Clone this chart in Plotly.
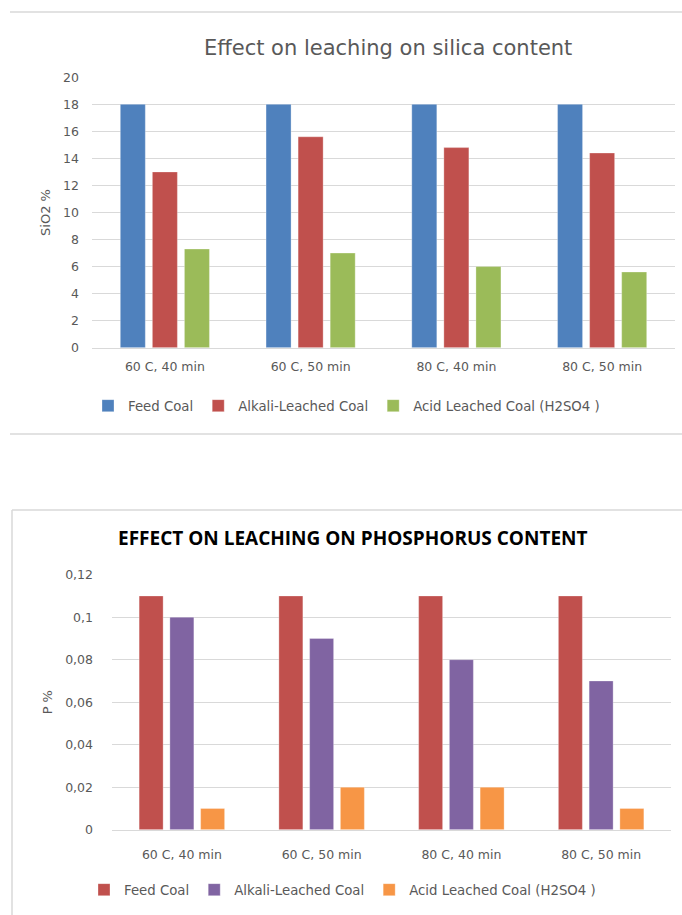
import plotly.graph_objects as go

W, H = 682, 915

categories = ["60 C, 40 min", "60 C, 50 min", "80 C, 40 min", "80 C, 50 min"]
series_names = ["Feed Coal", "Alkali-Leached Coal", "Acid Leached Coal (H2SO4 )"]

# SiO2 content (%)
sio2_feed = [18, 18, 18, 18]
sio2_alkali = [13.0, 15.6, 14.8, 14.4]
sio2_acid = [7.3, 7.0, 6.0, 5.6]

# Phosphorus content (%)
p_feed = [0.11, 0.11, 0.11, 0.11]
p_alkali = [0.10, 0.09, 0.08, 0.07]
p_acid = [0.01, 0.02, 0.02, 0.01]

silica_colors = ["#4F81BD", "#C0504D", "#9BBB59"]
phos_colors = ["#C0504D", "#8064A2", "#F79646"]

FONT = "DejaVu Sans"
GRAY = "#595959"
GRID = "#D9D9D9"


def fx(px):
    return px / W


def fy(py):
    return 1 - py / H


fig = go.Figure()

for name, vals, col in zip(series_names, [sio2_feed, sio2_alkali, sio2_acid], silica_colors):
    fig.add_trace(go.Bar(x=categories, y=vals, name=name, marker_color=col,
                         marker_line=dict(color="rgba(255,255,255,0.6)", width=0.5),
                         xaxis="x", yaxis="y", legend="legend"))

for name, vals, col in zip(series_names, [p_feed, p_alkali, p_acid], phos_colors):
    fig.add_trace(go.Bar(x=categories, y=vals, name=name, marker_color=col,
                         marker_line=dict(color="rgba(255,255,255,0.6)", width=0.5),
                         xaxis="x2", yaxis="y2", legend="legend2"))

tick_font = dict(family=FONT, size=12.5, color=GRAY)
legend_font = dict(family=FONT, size=13.3, color=GRAY)
axis_title_font = dict(family=FONT, size=13, color=GRAY)

fig.update_layout(
    width=W, height=H,
    margin=dict(l=0, r=0, t=0, b=0, autoexpand=False),
    paper_bgcolor="white", plot_bgcolor="white",
    separators=", ",
    barmode="group", bargap=0.34, bargroupgap=0.22,
    font=dict(family=FONT, color=GRAY),
    xaxis=dict(domain=[fx(92), fx(675)], anchor="y", showgrid=False, automargin=False,
               showline=True, linecolor=GRID, linewidth=1, ticks="",
               tickfont=tick_font, ticklabelstandoff=7),
    yaxis=dict(domain=[fy(347.7), fy(77.3)], anchor="x", range=[0, 20], dtick=2,
               automargin=False,
               showgrid=True, gridcolor=GRID, gridwidth=1, zeroline=False,
               showline=False, ticks="", tickfont=tick_font, ticklabelstandoff=12,
               title=dict(text="SiO2 %", font=axis_title_font, standoff=9)),
    xaxis2=dict(domain=[fx(112), fx(671)], anchor="y2", showgrid=False, automargin=False,
                showline=True, linecolor=GRID, linewidth=1, ticks="",
                tickfont=tick_font, ticklabelstandoff=13),
    yaxis2=dict(domain=[fy(829.7), fy(574.7)], anchor="x2", range=[0, 0.12], dtick=0.02,
                automargin=False,
                showgrid=True, gridcolor=GRID, gridwidth=1, zeroline=False,
                showline=False, ticks="", tickfont=tick_font, ticklabelstandoff=18,
                title=dict(text="P %", font=axis_title_font, standoff=9)),
    legend=dict(orientation="h", x=fx(88), y=fy(406), xanchor="left", yanchor="middle",
                font=legend_font, bgcolor="rgba(0,0,0,0)",
                itemwidth=30, itemclick=False, itemdoubleclick=False),
    legend2=dict(orientation="h", x=fx(84), y=fy(890), xanchor="left", yanchor="middle",
                 font=legend_font, bgcolor="rgba(0,0,0,0)",
                 itemwidth=30, itemclick=False, itemdoubleclick=False),
    annotations=[
        dict(text="Effect on leaching on silica content", x=fx(388), y=fy(48),
             xref="paper", yref="paper", showarrow=False, xanchor="center", yanchor="middle",
             font=dict(family=FONT, size=21, color=GRAY)),
        dict(text="<b>EFFECT ON LEACHING ON PHOSPHORUS CONTENT</b>", x=fx(352), y=fy(538),
             xref="paper", yref="paper", showarrow=False, xanchor="center", yanchor="middle",
             font=dict(family="Open Sans", size=19, color="#000000")),
    ],
    shapes=[
        dict(type="line", xref="paper", yref="paper", x0=fx(10), x1=1, y0=fy(12), y1=fy(12),
             line=dict(color=GRID, width=1.5)),
        dict(type="line", xref="paper", yref="paper", x0=fx(10), x1=1, y0=fy(434), y1=fy(434),
             line=dict(color=GRID, width=1.5)),
        dict(type="line", xref="paper", yref="paper", x0=fx(12), x1=1, y0=fy(510), y1=fy(510),
             line=dict(color=GRID, width=1.5)),
        dict(type="line", xref="paper", yref="paper", x0=fx(12), x1=fx(12), y0=fy(510), y1=0,
             line=dict(color=GRID, width=1.5)),
    ],
)

fig.write_html("out.html")
